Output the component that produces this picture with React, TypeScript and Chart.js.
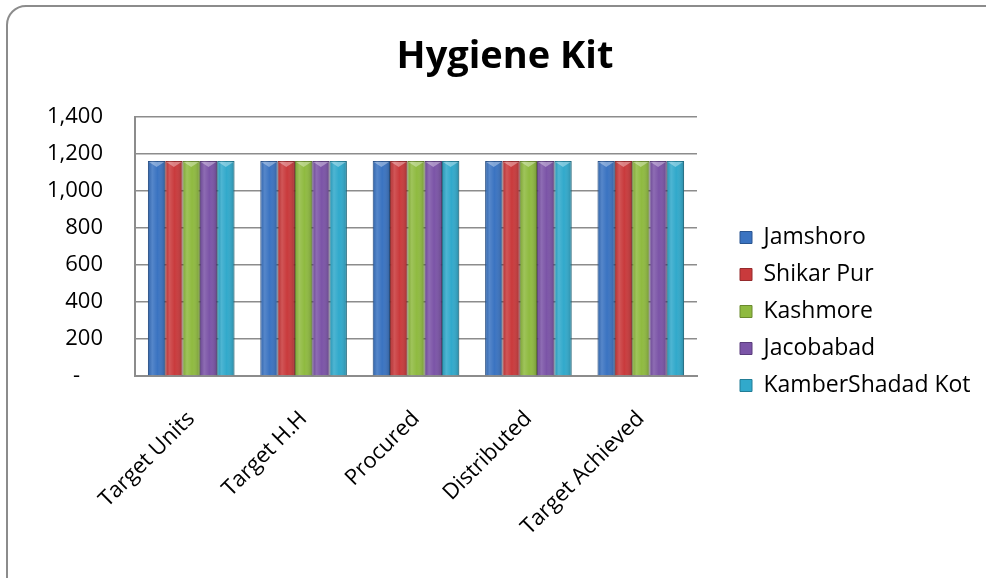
import React, { useEffect, useRef } from "react";
import { Chart, registerables } from "chart.js";

Chart.register(...registerables);

const categories = ["Target Units", "Target H.H", "Procured", "Distributed", "Target Achieved"];
const seriesNames = ["Jamshoro", "Shikar Pur", "Kashmore", "Jacobabad", "KamberShadad Kot"];
const jamshoro = [1160, 1160, 1160, 1160, 1160];
const shikarPur = [1160, 1160, 1160, 1160, 1160];
const kashmore = [1160, 1160, 1160, 1160, 1160];
const jacobabad = [1160, 1160, 1160, 1160, 1160];
const kamberShadadKot = [1160, 1160, 1160, 1160, 1160];
const seriesValues = [jamshoro, shikarPur, kashmore, jacobabad, kamberShadadKot];
const fillColors = ["#3A73C1", "#C93A3C", "#8FBA40", "#7B54A7", "#31A9CB"];
const edgeColors = ["#2A5590", "#952A2C", "#6A8A2E", "#5A3D7C", "#227D96"];
const yMin = 0;
const yMax = 1400;
const yStep = 200;

const FONT = "'Open Sans', 'DejaVu Sans', sans-serif";

const barShade = {
  id: "barShade",
  afterDatasetsDraw(chart: any) {
    const ctx = chart.ctx;
    chart.data.datasets.forEach((_ds: any, i: number) => {
      const meta = chart.getDatasetMeta(i);
      meta.data.forEach((bar: any) => {
        const { x, y, base, width } = bar.getProps(["x", "y", "base", "width"], true);
        const left = x - width / 2;
        const g = ctx.createLinearGradient(left, 0, left + width, 0);
        g.addColorStop(0, "rgba(0,0,0,0.10)");
        g.addColorStop(0.25, "rgba(255,255,255,0.14)");
        g.addColorStop(0.55, "rgba(255,255,255,0.0)");
        g.addColorStop(1, "rgba(0,0,0,0.20)");
        ctx.save();
        ctx.fillStyle = g;
        ctx.fillRect(left, y, width, base - y);
        ctx.beginPath();
        ctx.moveTo(left + 1, y + 1);
        ctx.lineTo(left + width - 1, y + 1);
        ctx.lineTo(x, y + 6);
        ctx.closePath();
        ctx.fillStyle = "rgba(255,255,255,0.35)";
        ctx.fill();
        ctx.restore();
      });
    });
  },
};

const legendWidthPlugin = {
  id: "legendWidth",
  afterInit(chart: any) {
    const legend = chart.legend;
    if (!legend) return;
    const origFit = legend.fit.bind(legend);
    legend.fit = function () {
      origFit();
      this.width = 254;
    };
  },
};

export default function App() {
  const canvasRef = useRef<HTMLCanvasElement | null>(null);

  useEffect(() => {
    const canvas = canvasRef.current;
    if (!canvas) return;
    const chart = new Chart(canvas, {
      type: "bar",
      data: {
        labels: categories,
        datasets: seriesNames.map((name, i) => ({
          label: name,
          data: seriesValues[i],
          backgroundColor: fillColors[i],
          borderColor: edgeColors[i],
          borderWidth: 1,
          categoryPercentage: 0.77,
          barPercentage: 1,
        })),
      },
      options: {
        responsive: false,
        animation: false,
        layout: { padding: { left: 30, right: 6, top: 0, bottom: 0 } },
        plugins: {
          title: {
            display: true,
            text: "Hygiene Kit",
            color: "#000",
            font: { family: FONT, size: 38, weight: "bold" },
            padding: { top: 34, bottom: 37 },
          },
          legend: {
            display: true,
            position: "right",
            align: "start",
            title: {
              display: true,
              text: " ",
              font: { family: FONT, size: 10 },
              padding: { top: 200, bottom: 0 },
            },
            labels: {
              boxWidth: 12,
              boxHeight: 12,
              padding: 14,
              color: "#000",
              font: { family: FONT, size: 23 },
            },
          },
          tooltip: { enabled: false },
        },
        scales: {
          x: {
            grid: { display: false, drawTicks: false },
            border: { display: true, color: "#8C8C8C", width: 2 },
            ticks: {
              color: "#000",
              font: { family: FONT, size: 22 },
              minRotation: 45,
              maxRotation: 45,
              padding: 30,
            },
            afterFit(scale: any) {
              scale.height = 202;
            },
          },
          y: {
            min: yMin,
            max: yMax,
            grid: { color: "#8C8C8C", lineWidth: 1.5, drawTicks: false },
            border: { display: true, color: "#8C8C8C", width: 2 },
            ticks: {
              stepSize: yStep,
              color: "#000",
              padding: 32,
              font: { family: FONT, size: 22 },
              callback: (v: any) => (Number(v) === 0 ? "-    " : Number(v).toLocaleString("en-US")),
            },
            afterFit(scale: any) {
              scale.width = 105;
            },
          },
          y2: {
            type: "linear",
            position: "right",
            display: true,
            grid: { display: false, drawOnChartArea: false, drawTicks: false },
            border: { display: false },
            ticks: { display: false },
            afterFit(scale: any) {
              scale.width = 29;
            },
          },
        },
      },
      plugins: [barShade, legendWidthPlugin],
    } as any);
    return () => chart.destroy();
  }, []);

  return (
    <div style={{ position: "fixed", left: 0, top: 0, width: 986, height: 578, overflow: "hidden", background: "#fff" }}>
      <div
        style={{
          position: "absolute",
          left: 6,
          top: 5,
          width: 1000,
          height: 600,
          border: "2px solid #8C8C8C",
          borderRadius: 20,
          boxSizing: "border-box",
        }}
      />
      <canvas ref={canvasRef} width={986} height={578} style={{ position: "absolute", left: 0, top: 0, width: 986, height: 578 }} />
    </div>
  );
}
